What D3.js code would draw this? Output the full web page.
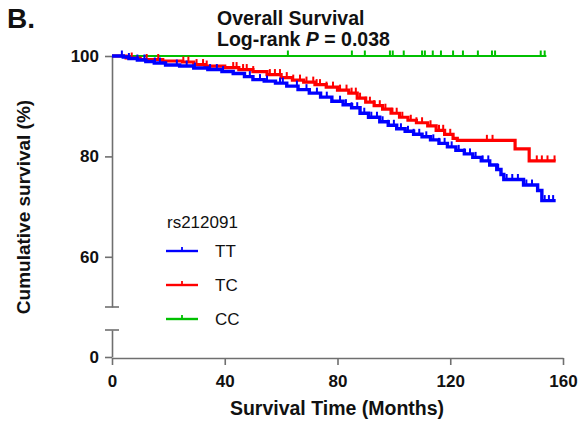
<!DOCTYPE html>
<html>
<head>
<meta charset="utf-8">
<script src="https://cdn.jsdelivr.net/npm/d3@7"></script>
<style>
  body { margin: 0; background: #fff; }
  svg text { font-family: "Liberation Sans", Arial, sans-serif; fill: #111; }
</style>
</head>
<body>
<svg id="chart" width="578" height="423"></svg>
<script>
// Kaplan-Meier steps: [months, survival %]
const ttSteps = [[0,100],[2,100],[4,99.8],[6,99.5],[9,99.2],[12,98.9],[15,98.6],[19,98.2],[24,98.0],[29,97.6],
  [34,97.3],[39,96.9],[43,96.5],[47,95.9],[50,95.3],[54,95.0],[58,94.6],[62,94.0],[66,93.3],[70,92.6],
  [74,91.8],[78,91.0],[82,90.3],[85,89.7],[88,88.6],[91,87.8],[95,86.9],[98,86.2],[101,85.5],[104,85.0],
  [107,84.4],[110,83.9],[113,83.3],[116,82.6],[119,81.9],[122,81.2],[125,80.5],[128,79.8],[131,79.1],
  [134,78.3],[136.5,77.4],[138,76.4],[139,75.4],[146,74.3],[151,73.2],[152.5,71.2]];
const tcSteps = [[0,100],[5,99.6],[10,99.3],[18,99.0],[25,98.8],[29,98.3],[33,98.0],[40,97.7],[45,97.3],
  [50,96.9],[55,96.3],[60,95.7],[64,95.2],[68,94.8],[72,94.3],[76,93.8],[80,93.2],[84,92.6],[87,91.6],
  [90,90.8],[93,90.1],[96,89.4],[99,88.6],[102,87.8],[105,87.2],[108,86.7],[112,86.1],[115,85.2],
  [118,84.4],[121,83.6],[122.5,83.2],[143,81.5],[148,79.1]];
const ccSteps = [[0,100]];
const lastTime = { TT: 157.4, TC: 157.4, CC: 154.1 };

// censored observations (months)
const ttCensor = [3.5,6,9,11.5,15.2,17,23,26.5,29.4,34.8,37.2,39.4,48.9,52.5,55,59.6,60.6,65.6,69,72.7,76.2,
  80.9,83,85,87,89.5,92,94,96,98,100,102.5,105,107,109,111.5,114,116,118,120.5,123,125,127,129,131.5,
  133.5,137,140,142,144,147,149,153.5,155,156.5];
const tcCensor = [7,12.3,16.4,25.3,27.1,30,32.3,33.6,43,44.2,46.5,47.8,50.1,56,57.8,59.6,62,64.3,66.7,69,
  71.4,72.6,73.8,76.1,78.4,80.9,83.2,85,86.5,88,90,91.5,93,95,97,99.5,101,103,106,108,110,113,116,117.5,
  120,133,135,150.7,152.5,154.5,157];
const ccCensor = [62.4,85.1,89.7,98.6,99.6,103.5,110,111,113.8,116.7,121,124.5,129.8,134.8,135.9,152.1,153.5];

const groups = ['TT', 'TC', 'CC'];
const colors = { TT: '#0000ff', TC: '#ff0000', CC: '#00c000' };
const xTicks = [0, 40, 80, 120, 160];
const yTicksTop = [60, 80, 100];
const yTicksBottom = [0];

const svg = d3.select('#chart');
const axisColor = '#6f6f6f';

const x = d3.scaleLinear().domain([0, 160]).range([112, 563]);
const yTop = d3.scaleLinear().domain([50, 100]).range([307, 56]);
const yBot = d3.scaleLinear().domain([0, 5.4]).range([357, 330]);

// titles
svg.append('text').attr('x', 7).attr('y', 28).attr('font-size', 28).attr('font-weight', 'bold').text('B.');
svg.append('text').attr('x', 217).attr('y', 25).attr('font-size', 19.5).attr('font-weight', 'bold')
  .text('Overall Survival');
const t2 = svg.append('text').attr('x', 217).attr('y', 46).attr('font-size', 19.5).attr('font-weight', 'bold');
t2.append('tspan').text('Log-rank ');
t2.append('tspan').attr('font-style', 'italic').text('P');
t2.append('tspan').text(' = 0.038');

// axes (y is broken in two pieces)
const fmt = d3.format('d');
const gyTop = svg.append('g').attr('transform', 'translate(112,0)')
  .call(d3.axisLeft(yTop).tickValues(yTicksTop).tickFormat(fmt).tickSize(7).tickSizeOuter(0).tickPadding(6));
const gyBot = svg.append('g').attr('transform', 'translate(112,0)')
  .call(d3.axisLeft(yBot).tickValues(yTicksBottom).tickFormat(fmt).tickSize(7).tickSizeOuter(0).tickPadding(6));
const gx = svg.append('g').attr('transform', 'translate(0,358)')
  .call(d3.axisBottom(x).tickValues(xTicks).tickFormat(fmt).tickSize(7).tickSizeOuter(0).tickPadding(6));

[gyTop, gyBot, gx].forEach(g => {
  g.selectAll('path, line').attr('stroke', axisColor).attr('stroke-width', 1.6);
  g.selectAll('text').attr('font-size', 17).attr('font-weight', 'bold')
    .attr('font-family', '"Liberation Sans", Arial, sans-serif').attr('fill', '#111');
});
gx.selectAll('text').attr('dy', '0.95em');

// break caps
svg.append('line').attr('x1', 105).attr('x2', 119).attr('y1', yTop(50)).attr('y2', yTop(50))
  .attr('stroke', axisColor).attr('stroke-width', 1.6);
svg.append('line').attr('x1', 105).attr('x2', 119).attr('y1', yBot(5.4)).attr('y2', yBot(5.4))
  .attr('stroke', axisColor).attr('stroke-width', 1.6);

// axis titles
svg.append('text').attr('transform', 'translate(30,207) rotate(-90)').attr('text-anchor', 'middle')
  .attr('font-size', 19).attr('font-weight', 'bold').text('Cumulative survival (%)');
svg.append('text').attr('x', 337).attr('y', 415).attr('text-anchor', 'middle')
  .attr('font-size', 19.5).attr('font-weight', 'bold').text('Survival Time (Months)');

// curves
const stepsOf = { TT: ttSteps, TC: tcSteps, CC: ccSteps };
const censorOf = { TT: ttCensor, TC: tcCensor, CC: ccCensor };
const widthOf = { TT: 3.4, TC: 3.2, CC: 2 };
const survAt = (steps, t) => {
  let s = steps[0][1];
  steps.forEach(d => { if (d[0] <= t) s = d[1]; });
  return s;
};
const line = d3.line().x(d => x(d[0])).y(d => yTop(d[1])).curve(d3.curveStepAfter);

['CC', 'TC', 'TT'].forEach(g => {
  const steps = stepsOf[g];
  const pts = steps.concat([[lastTime[g], steps[steps.length - 1][1]]]);
  const grp = svg.append('g');
  grp.append('path').datum(pts).attr('d', line)
    .attr('fill', 'none').attr('stroke', colors[g]).attr('stroke-width', widthOf[g]);
  grp.selectAll('line').data(censorOf[g]).join('line')
    .attr('x1', d => x(d)).attr('x2', d => x(d))
    .attr('y1', d => yTop(survAt(steps, d)))
    .attr('y2', d => yTop(survAt(steps, d)) - 5.5)
    .attr('stroke', colors[g]).attr('stroke-width', 2);
});

// legend
const legend = svg.append('g').attr('transform', 'translate(166,0)');
legend.append('text').attr('x', 1).attr('y', 228).attr('font-size', 17).text('rs212091');
groups.forEach((g, i) => {
  const ly = 251 + i * 34;
  legend.append('line').attr('x1', 0).attr('x2', 32).attr('y1', ly).attr('y2', ly)
    .attr('stroke', colors[g]).attr('stroke-width', 2.4);
  legend.append('line').attr('x1', 16).attr('x2', 16).attr('y1', ly).attr('y2', ly - 4)
    .attr('stroke', colors[g]).attr('stroke-width', 1.8);
  legend.append('text').attr('x', 49).attr('y', ly + 6).attr('font-size', 17).text(g);
});
</script>
</body>
</html>
